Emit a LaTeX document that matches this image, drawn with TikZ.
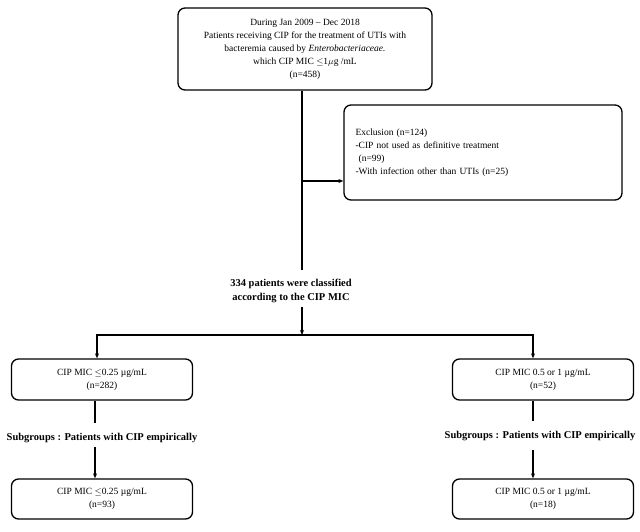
\documentclass[tikz,border=0pt]{standalone}
\usepackage{fontspec}
\setmainfont{Liberation Serif}
\usetikzlibrary{arrows.meta}
\begin{document}
\begin{tikzpicture}[x=1pt,y=-1pt,
  box/.style={draw,line width=1.3pt,rounded corners=7pt,align=center,font=\fontsize{9.5}{13}\selectfont,inner sep=0pt},
  lbl/.style={font=\bfseries\fontsize{10.5}{14}\selectfont,align=center,inner sep=0pt},
  ln/.style={line width=1.2pt},
  ar/.style={ln,-{Stealth[length=5pt,width=4pt]}}]
\useasboundingbox (0,0) rectangle (640,532);
\node[box,minimum width=254pt,minimum height=82pt] (top) at (305,49) {During Jan 2009 -- Dec 2018\\Patients receiving CIP for the treatment of UTIs with\\bacteremia caused by \textit{Enterobacteriaceae.}\\which CIP MIC $\leq$1$\mu$g /mL\\(n=458)};
\node[box,minimum width=278pt,minimum height=95pt,align=left,text width=255pt] (exc) at (483,152.5) {Exclusion (n=124)\\-CIP not used as definitive treatment\\\ (n=99)\\-With infection other than UTIs (n=25)};
\node[lbl] (cls) at (291,291) {334 patients were classified\\according to the CIP MIC};
\node[box,minimum width=181pt,minimum height=41pt] (l1) at (102,379.5) {CIP MIC $\leq$0.25 µg/mL\\(n=282)};
\node[box,minimum width=181pt,minimum height=41pt] (r1) at (543,379.5) {CIP MIC 0.5 or 1 µg/mL\\(n=52)};
\node[lbl] (ls) at (102,438) {Subgroups : Patients with CIP empirically};
\node[lbl] (rs) at (540,436) {Subgroups : Patients with CIP empirically};
\node[box,minimum width=181pt,minimum height=40pt] (l2) at (102,499) {CIP MIC $\leq$0.25 µg/mL\\(n=93)};
\node[box,minimum width=181pt,minimum height=40pt] (r2) at (543,499) {CIP MIC 0.5 or 1 µg/mL\\(n=18)};
\coordinate (j) at (302,181);
\coordinate (e) at (302,270);
\coordinate (s) at (302,307);
\coordinate (sp) at (302,335);
\draw[ln] (top.south -| j) -- (e);
\draw[ar] (j) -- (exc.west |- j);
\draw[ar] (s) -- (sp);
\draw[ar] (sp) -| (l1.north -| 97,0);
\draw[ar] (sp) -| (r1.north -| 533,0);
\draw[ln] (l1.south -| 95,0) -- (95,423);
\draw[ar] (95,447) -- (l2.north -| 95,0);
\draw[ln] (r1.south -| 533,0) -- (533,421);
\draw[ar] (533,450) -- (r2.north -| 533,0);
\end{tikzpicture}
\end{document}
